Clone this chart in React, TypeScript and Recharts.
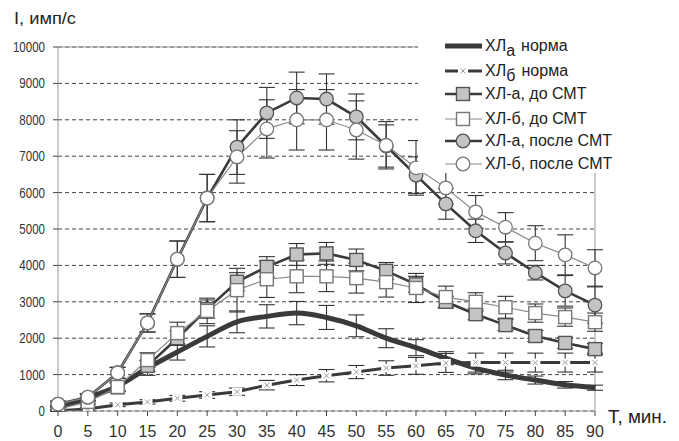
import React from 'react';
import {
  LineChart,
  Line,
  XAxis,
  YAxis,
  CartesianGrid,
  ErrorBar,
  ReferenceLine,
  Legend,
  Customized,
} from 'recharts';

// Time points, min
const times = [0, 5, 10, 15, 20, 25, 30, 35, 40, 45, 50, 55, 60, 65, 70, 75, 80, 85, 90];

// ХЛа норма
const normA = [100, 370, 680, 1180, 1620, 2050, 2450, 2600, 2690, 2570, 2340, 2000, 1740, 1450, 1180, 990, 850, 720, 640];
const normAErr = [50, 80, 120, 200, 220, 290, 300, 320, 320, 330, 300, 260, 220, 180, 160, 130, 110, 90, 70];

// ХЛб норма
const normB = [10, 55, 170, 250, 350, 440, 530, 710, 850, 970, 1070, 1180, 1240, 1320, 1330, 1330, 1330, 1330, 1330];
const normBErr = [20, 40, 50, 60, 80, 90, 100, 130, 150, 170, 180, 200, 230, 260, 260, 260, 260, 260, 260];

// ХЛ-а, до СМТ
const beforeA = [80, 300, 650, 1240, 2000, 2800, 3550, 3960, 4300, 4330, 4150, 3850, 3480, 3000, 2660, 2360, 2060, 1870, 1700];
const beforeAErr = [50, 80, 120, 150, 200, 250, 250, 280, 300, 300, 300, 230, 220, 150, 150, 150, 150, 150, 150];

// ХЛ-б, до СМТ
const beforeB = [50, 250, 660, 1400, 2140, 2750, 3320, 3620, 3700, 3700, 3650, 3540, 3380, 3130, 3000, 2850, 2690, 2580, 2440];
const beforeBErr = [50, 80, 120, 200, 300, 350, 600, 500, 450, 420, 410, 410, 400, 300, 250, 300, 250, 250, 250];

// ХЛ-а, после СМТ
const afterA = [190, 380, 1050, 2420, 4170, 5850, 7250, 8190, 8600, 8570, 8080, 7280, 6480, 5690, 4950, 4340, 3800, 3300, 2910];
const afterAErr = [80, 100, 150, 250, 500, 650, 750, 700, 710, 690, 630, 580, 500, 420, 320, 300, 200, 420, 500];

// ХЛ-б, после СМТ
const afterB = [190, 380, 1050, 2420, 4170, 5850, 6980, 7750, 8000, 8000, 7720, 7300, 6680, 6130, 5470, 5050, 4610, 4290, 3930];
const afterBErr = [80, 100, 150, 250, 500, 650, 720, 800, 830, 830, 800, 650, 750, 450, 450, 400, 480, 550, 500];

const seriesNames = [
  'ХЛа норма',
  'ХЛб норма',
  'ХЛ-а, до СМТ',
  'ХЛ-б, до СМТ',
  'ХЛ-а, после СМТ',
  'ХЛ-б, после СМТ',
];

const xTicks = times;
const yTicks = [0, 1000, 2000, 3000, 4000, 5000, 6000, 7000, 8000, 9000, 10000];

const yTitle = 'I, имп/с';
const xTitle = 'T, мин.';

const data = times.map((t, i) => ({
  t,
  normA: normA[i],
  normAErr: normAErr[i],
  normB: normB[i],
  normBErr: normBErr[i],
  beforeA: beforeA[i],
  beforeAErr: beforeAErr[i],
  beforeB: beforeB[i],
  beforeBErr: beforeBErr[i],
  afterA: afterA[i],
  afterAErr: afterAErr[i],
  afterB: afterB[i],
  afterBErr: afterBErr[i],
}));

const FONT = '"Liberation Sans", Arial, sans-serif';
const DARK = '#3a3a3a';
const MID = '#555';
const LIGHT = '#8a8a8a';
const GREY_FILL = '#c4c4c4';

type MarkKind = 'none' | 'cross' | 'square' | 'circle';

interface SeriesStyle {
  key: string;
  errKey: string;
  stroke: string;
  width: number;
  curve: 'monotone' | 'linear';
  mark: MarkKind;
  fill: string;
  markStroke: string;
}

const styles: SeriesStyle[] = [
  { key: 'normA', errKey: 'normAErr', stroke: DARK, width: 5, curve: 'monotone', mark: 'none', fill: 'none', markStroke: DARK },
  { key: 'normB', errKey: 'normBErr', stroke: DARK, width: 3, curve: 'linear', mark: 'cross', fill: '#fff', markStroke: '#999' },
  { key: 'beforeA', errKey: 'beforeAErr', stroke: DARK, width: 2.6, curve: 'linear', mark: 'square', fill: GREY_FILL, markStroke: MID },
  { key: 'beforeB', errKey: 'beforeBErr', stroke: LIGHT, width: 1.2, curve: 'linear', mark: 'square', fill: '#fff', markStroke: '#777' },
  { key: 'afterA', errKey: 'afterAErr', stroke: DARK, width: 2.6, curve: 'linear', mark: 'circle', fill: GREY_FILL, markStroke: MID },
  { key: 'afterB', errKey: 'afterBErr', stroke: LIGHT, width: 1.2, curve: 'linear', mark: 'circle', fill: '#fff', markStroke: '#777' },
];

function Marker({ kind, cx, cy, fill, stroke }: { kind: MarkKind; cx: number; cy: number; fill: string; stroke: string }) {
  if (kind === 'square') {
    return <rect x={cx - 6.5} y={cy - 6.5} width={13} height={13} fill={fill} stroke={stroke} strokeWidth={1.4} />;
  }
  if (kind === 'circle') {
    return <circle cx={cx} cy={cy} r={6.8} fill={fill} stroke={stroke} strokeWidth={1.3} />;
  }
  if (kind === 'cross') {
    return (
      <g>
        <rect x={cx - 5} y={cy - 4} width={10} height={8} fill="#fff" />
        <path
          d={`M${cx - 2.5},${cy - 2.5}L${cx + 2.5},${cy + 2.5}M${cx + 2.5},${cy - 2.5}L${cx - 2.5},${cy + 2.5}`}
          stroke={stroke}
          strokeWidth={1}
        />
      </g>
    );
  }
  return null;
}

const makeDot = (s: SeriesStyle) => (p: any) => {
  if (p.cx == null || p.cy == null) return <g key={`${s.key}-${p.index}`} />;
  return (
    <g key={`${s.key}-${p.index}`}>
      <Marker kind={s.mark} cx={p.cx} cy={p.cy} fill={s.fill} stroke={s.markStroke} />
    </g>
  );
};

const YTick = (p: any) => (
  <g transform={`translate(${p.x},${p.y})`}>
    <text x={0} y={5} transform="scale(0.77,1)" textAnchor="end" fontSize={15} fill="#333" fontFamily={FONT}>
      {p.payload.value}
    </text>
  </g>
);

const XTick = (p: any) => (
  <text x={p.x} y={p.y + 21} textAnchor="middle" fontSize={16} fill="#333" fontFamily={FONT}>
    {p.payload.value}
  </text>
);

const legendRowsY = [16, 41, 64, 89, 111, 134];

function LegendLabel({ name, y }: { name: string; y: number }) {
  const m = name.match(/^ХЛ([аб]) (.*)$/);
  if (m) {
    return (
      <text x={67} y={y + 5} fontSize={16} fill="#222" fontFamily={FONT}>
        ХЛ
        <tspan dy={5}>{m[1]}</tspan>
        <tspan dy={-5} dx={6}>{m[2]}</tspan>
      </text>
    );
  }
  return (
    <text x={67} y={y + 5} fontSize={16} fill="#222" fontFamily={FONT}>
      {name}
    </text>
  );
}

function LegendBox() {
  return (
    <svg width={261} height={143} style={{ display: 'block' }}>
      <rect x={0} y={0} width={261} height={143} fill="#fff" />
      {styles.map((s, i) => {
        const y = legendRowsY[i];
        return (
          <g key={s.key}>
            <line x1={27} x2={64} y1={y} y2={y} stroke={s.stroke} strokeWidth={s.width} />
            <Marker kind={s.mark} cx={45} cy={y} fill={s.fill} stroke={s.markStroke} />
            <LegendLabel name={seriesNames[i]} y={y} />
          </g>
        );
      })}
    </svg>
  );
}

const Titles = () => (
  <g>
    <text x={14} y={24} fontSize={17} fill="#222" fontFamily={FONT} textLength={62} lengthAdjust="spacingAndGlyphs">
      {yTitle}
    </text>
    <text x={608} y={423} fontSize={18} fill="#222" fontFamily={FONT} textLength={59} lengthAdjust="spacingAndGlyphs">
      {xTitle}
    </text>
  </g>
);

export default function App() {
  return (
    <div style={{ position: 'absolute', left: 0, top: 0, background: '#fff' }}>
      <LineChart
        width={679}
        height={441}
        data={data}
        margin={{ top: 47, right: 84, bottom: 0, left: 0 }}
      >
        <CartesianGrid vertical={false} stroke="#444" strokeDasharray="4 3" />
        <XAxis
          dataKey="t"
          type="number"
          domain={[0, 90]}
          ticks={xTicks}
          interval={0}
          height={30}
          tickSize={5}
          tickMargin={0}
          axisLine={{ stroke: '#999' }}
          tickLine={{ stroke: '#444' }}
          tick={<XTick />}
        />
        <YAxis
          type="number"
          domain={[0, 10000]}
          ticks={yTicks}
          interval={0}
          allowDataOverflow
          width={58}
          tickSize={5}
          tickMargin={8}
          axisLine={{ stroke: '#999' }}
          tickLine={{ stroke: '#444' }}
          tick={<YTick />}
        />
        <ReferenceLine y={10000} stroke="#999" strokeWidth={1} />
        <ReferenceLine x={90} stroke="#999" strokeWidth={1} />
        {styles.map((s, i) => (
          <Line
            key={s.key}
            name={seriesNames[i]}
            dataKey={s.key}
            type={s.curve}
            stroke={s.stroke}
            strokeWidth={s.width}
            dot={s.mark === 'none' ? false : makeDot(s)}
            activeDot={false}
            isAnimationActive={false}
          >
            <ErrorBar dataKey={s.errKey} width={8} stroke="#333" strokeWidth={1.1} direction="y" />
          </Line>
        ))}
        <Legend
          layout="vertical"
          align="center"
          verticalAlign="middle"
          content={() => <LegendBox />}
          wrapperStyle={{ left: 418, top: 30, width: 261, height: 143 }}
        />
        <Customized component={Titles} />
      </LineChart>
    </div>
  );
}
